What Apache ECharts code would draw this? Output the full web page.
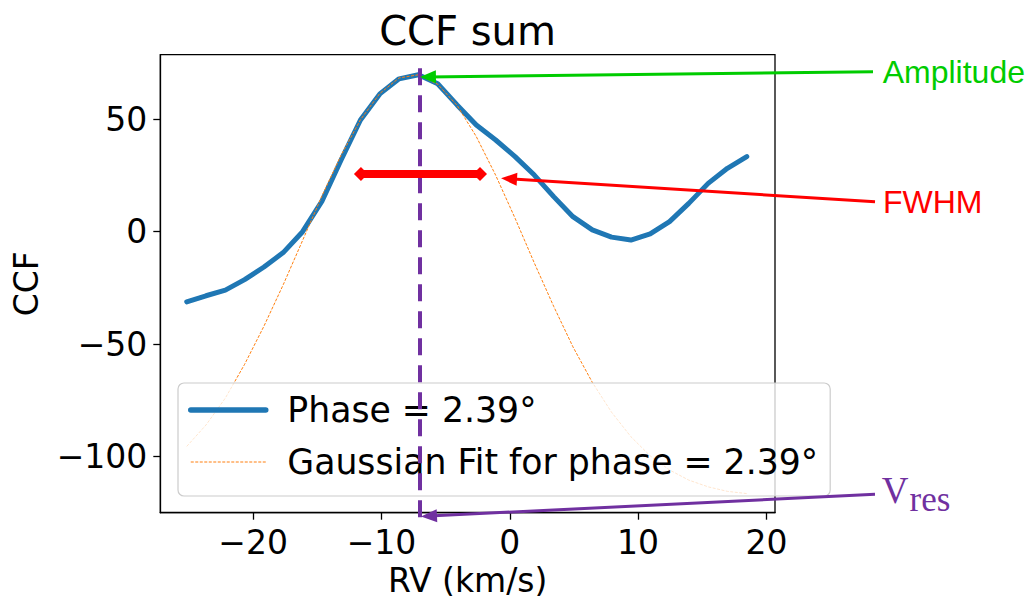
<!DOCTYPE html>
<html><head><meta charset="utf-8">
<script src="https://cdn.jsdelivr.net/npm/echarts@6/dist/echarts.min.js"></script>
<style>html,body{margin:0;padding:0;background:#fff}#c{width:1033px;height:603px}</style>
</head><body><div id="c"></div>
<script>
// ---- data ----
const rv = [-25.18, -23.68, -22.17, -20.67, -19.16, -17.66, -16.15, -14.65, -13.14, -11.64,
            -10.13, -8.63, -7.12, -5.62, -4.11, -2.61, -1.10, 0.41, 1.91, 3.42,
            4.92, 6.43, 7.93, 9.44, 10.94, 12.45, 13.95, 15.46, 16.96, 18.47];
const ccf = [-31.2, -28.5, -26.0, -21.3, -15.7, -9.3, 0.0, 13.5, 32.0, 49.7,
             61.3, 68.0, 69.8, 65.8, 56.4, 47.5, 40.8, 33.4, 25.2, 15.6,
             6.7, 0.8, -2.4, -3.7, -1.0, 4.5, 12.6, 21.5, 28.2, 33.4];
const gaussFit = [-95.5, -86.0, -74.0, -59.0, -42.0, -23.6, -3.9, 15.8, 34.1, 49.8,
                  61.5, 68.4, 69.8, 65.6, 56.2, 42.3, 25.1, 6.0, -13.9, -33.2,
                  -51.2, -67.0, -80.3, -91.2, -99.7, -106.0, -110.5, -113.5, -115.5, -116.5];
const xTicks = [-20, -10, 0, 10, 20];
const yTicks = [-100, -50, 0, 50];
const seriesNames = ['Phase = 2.39°', 'Gaussian Fit for phase = 2.39°'];
const titleText = 'CCF sum';
const xLabel = 'RV (km/s)';
const yLabel = 'CCF';

// ---- annotation anchors (data units) ----
const vRes = -7.05, vResTop = 72.7, vResBottom = -127.0;
const fwhmLeft = -11.6, fwhmRight = -2.32, fwhmLevel = 25.66;
const ampTip = [-6.38, 68.86];
const fwhmTip = [-0.06, 23.53];
const vresTip = [-6.30, -126.5];

const FONT = 'DejaVu Sans';
const minus = v => String(v).replace('-', '\u2212');
const chart = echarts.init(document.getElementById('c'), null, {renderer: 'svg'});

function mlSeries(p0, p1, color, width, dash, symbols, symbolSize) {
  return {
    type: 'line', data: [], clip: false, silent: true, z: 10,
    markLine: {
      silent: true, animation: false, z: 10,
      symbol: symbols, symbolSize: symbolSize,
      label: {show: false},
      lineStyle: {color: color, width: width, type: dash},
      emphasis: {disabled: true},
      data: [[{x: p0[0], y: p0[1]}, {x: p1[0], y: p1[1]}]]
    }
  };
}

const baseSeries = [
  {name: seriesNames[0], type: 'line', data: rv.map((x, i) => [x, ccf[i]]),
   symbol: 'none', silent: true, z: 2,
   lineStyle: {color: '#1f77b4', width: 5, cap: 'round', join: 'round'},
   itemStyle: {color: '#1f77b4'}},
  {name: seriesNames[1], type: 'line', data: rv.map((x, i) => [x, gaussFit[i]]),
   symbol: 'none', silent: true, z: 3,
   lineStyle: {color: '#ff7f0e', width: 1, type: [3, 1.5]},
   itemStyle: {color: '#ff7f0e'}}
];

const option = {
  animation: false,
  backgroundColor: '#ffffff',
  grid: {left: 160.3, right: 258, top: 54.7, bottom: 90.3, show: true,
         borderColor: '#000', borderWidth: 1.3, outerBoundsMode: 'none', containLabel: false},
  xAxis: {
    type: 'value', min: -27.24, max: 20.67,
    axisLine: {show: true, onZero: false, lineStyle: {color: '#000', width: 1.3}},
    axisTick: {show: true, customValues: xTicks, length: 7, lineStyle: {color: '#000', width: 1.3}},
    axisLabel: {customValues: xTicks, formatter: minus, fontSize: 33, fontFamily: FONT, color: '#000', margin: 13},
    splitLine: {show: false},
    name: xLabel, nameLocation: 'middle', nameGap: 49,
    nameTextStyle: {fontSize: 33, fontFamily: FONT, color: '#000'}
  },
  yAxis: {
    type: 'value', min: -125.0, max: 78.74,
    axisLine: {show: true, onZero: false, lineStyle: {color: '#000', width: 1.3}},
    axisTick: {show: true, customValues: yTicks, length: 7, lineStyle: {color: '#000', width: 1.3}},
    axisLabel: {customValues: yTicks, formatter: minus, fontSize: 33, fontFamily: FONT, color: '#000', margin: 13},
    splitLine: {show: false},
    name: yLabel, nameLocation: 'middle', nameGap: 117,
    nameTextStyle: {fontSize: 33, fontFamily: FONT, color: '#000'}
  },
  legend: {
    data: [
      {name: seriesNames[0], lineStyle: {width: 5.5}},
      {name: seriesNames[1], lineStyle: {width: 1}}
    ],
    orient: 'vertical', left: 178, top: 383,
    padding: [7, 12, 14, 10], itemWidth: 75, itemHeight: 20, itemGap: 12,
    selectedMode: false,
    itemStyle: {opacity: 0},
    textStyle: {fontSize: 34.7, fontFamily: FONT, color: '#000', lineHeight: 40, padding: [0, 0, 0, 16.5]},
    backgroundColor: 'rgba(255,255,255,0.8)', borderColor: '#cccccc', borderWidth: 1.2, borderRadius: 6
  },
  graphic: [
    {type: 'text', x: 467.5, y: 31, silent: true,
     style: {text: titleText, fontSize: 40, fontFamily: FONT, fill: '#000', textAlign: 'center', textVerticalAlign: 'middle'}},
    {type: 'text', x: 882.7, y: 72.2, silent: true,
     style: {text: 'Amplitude', fontSize: 32, fontFamily: 'Liberation Sans', fill: '#00cc00', textAlign: 'left', textVerticalAlign: 'middle'}},
    {type: 'text', x: 883, y: 201.6, silent: true,
     style: {text: 'FWHM', fontSize: 32, fontFamily: 'Liberation Sans', fill: '#ff0000', textAlign: 'left', textVerticalAlign: 'middle'}},
    {type: 'text', x: 881.7, y: 490.5, silent: true,
     style: {text: 'V', fontSize: 37, fontFamily: 'Liberation Serif', fill: '#7030a0', textAlign: 'left', textVerticalAlign: 'middle'}},
    {type: 'text', x: 909.5, y: 499.8, silent: true,
     style: {text: 'res', fontSize: 35, fontFamily: 'Liberation Serif', fill: '#7030a0', textAlign: 'left', textVerticalAlign: 'middle'}}
  ],
  series: baseSeries
};
chart.setOption(option);

// annotation overlays: convert data anchors to pixels through the axes
const px = c => chart.convertToPixel({gridIndex: 0}, c);
option.series = baseSeries.concat([
  mlSeries(px([vRes, vResTop]), px([vRes, vResBottom]), '#7030a0', 4, [17, 10], ['none', 'none'], 1),
  mlSeries(px([fwhmLeft, fwhmLevel]), px([fwhmRight, fwhmLevel]), '#ff0000', 8, 'solid', ['diamond', 'diamond'], [14, 14]),
  mlSeries([873, 71.7], px(ampTip), '#00cc00', 3, 'solid', ['none', 'triangle'], [13, 16]),
  mlSeries([875, 201.7], px(fwhmTip), '#ff0000', 3, 'solid', ['none', 'triangle'], [13, 16]),
  mlSeries([875, 494.3], px(vresTip), '#7030a0', 3, 'solid', ['none', 'triangle'], [13, 16])
]);
chart.setOption(option, true);
</script>
</body></html>
